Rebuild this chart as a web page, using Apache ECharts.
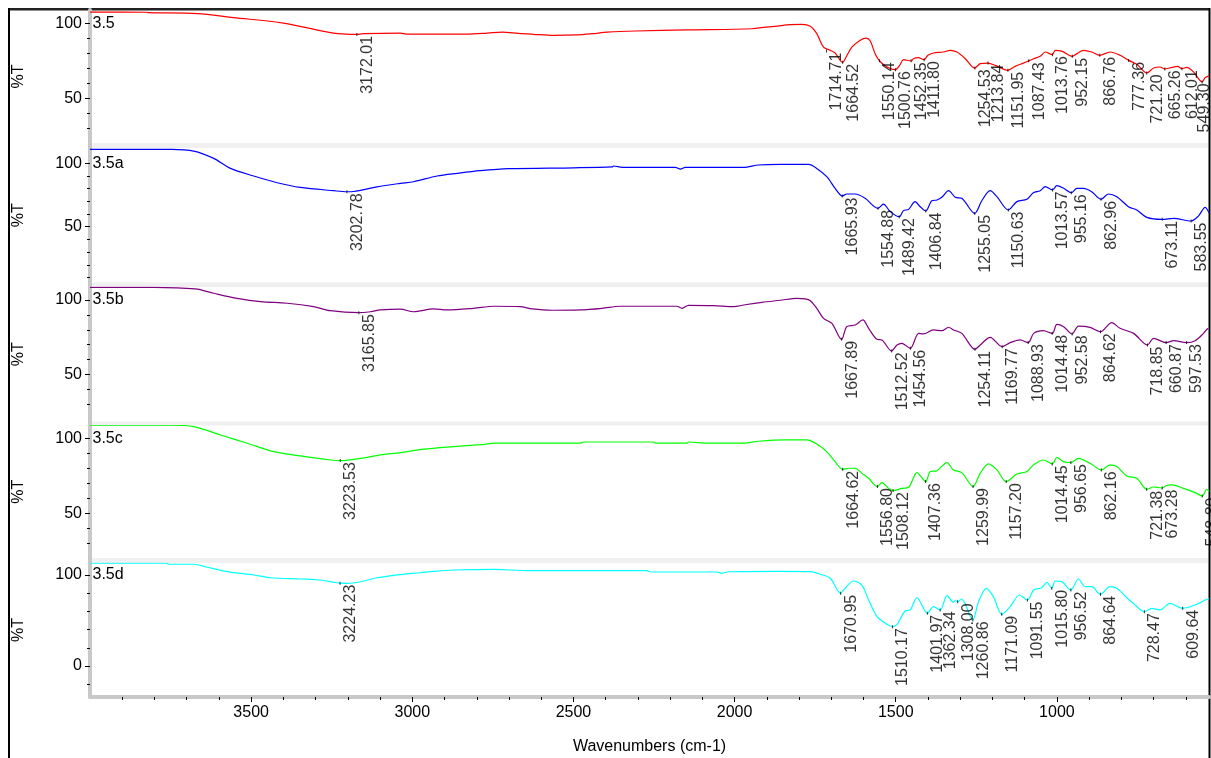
<!DOCTYPE html>
<html>
<head>
<meta charset="utf-8">
<title>FTIR spectra 3.5 – 3.5d</title>
<script src="https://cdn.jsdelivr.net/npm/echarts@6/dist/echarts.min.js"></script>
<style>
  html, body { margin: 0; padding: 0; background: #fff; }
  #chart { width: 1211px; height: 758px; }
</style>
</head>
<body>
<div id="chart"></div>
<script>
// spectra: [wavenumber cm-1, %T]
const spec35 = [[4000,107.5],[3822,107.4],[3820,107.1],[3667,106.5],[3555,103.8],[3400,100.2],[3245,93.5],[3192,92.7],[3172,92.6],[3152,93.1],[3037,93.5],[3015,92.8],[2830,92.8],[2767,93.5],[2721,94.2],[2671,93.3],[2624,92.7],[2562,92],[2488,92.3],[2441,93.1],[2395,94.1],[2308,94.9],[2147,95.6],[1945,96.4],[1911,97.3],[1868,98.2],[1827,99.1],[1791,99.3],[1765,98],[1745,93.1],[1724,84.2],[1703,82],[1688,80.2],[1665,74],[1651,78.7],[1636,84.2],[1610,88.7],[1592,90.2],[1579,88.2],[1564,79.8],[1550,74.9],[1527,70.9],[1501,69.1],[1488,72],[1476,75.8],[1452,74.9],[1445,76.4],[1430,77.1],[1412,75.8],[1400,78.7],[1383,80.2],[1352,80.9],[1331,82],[1310,80.9],[1284,76.4],[1255,70.2],[1238,73.1],[1214,73.5],[1191,72],[1152,68.7],[1130,71.3],[1104,73.5],[1087,75],[1072,76.4],[1052,78],[1036,80.9],[1014,79.1],[1005,82],[985,81.5],[952,78],[938,79.8],[917,82],[892,80.9],[867,78.7],[835,80.9],[804,78.7],[777,75.3],[752,72.7],[721,66.9],[700,70.2],[680,70.9],[665,69.6],[643,70.6],[625,71.3],[612,69.8],[597,70.6],[576,67.6],[549,60.9],[540,63.8],[528,65]];
const spec35a = [[4000,111],[3746,111],[3678,109.7],[3616,103.9],[3564,96],[3492,90],[3419,84.7],[3347,81],[3244,78.4],[3203,77.6],[3182,77.8],[3109,81.5],[3037,84.2],[2996,85.5],[2923,90],[2861,92.1],[2789,94.2],[2701,95.8],[2499,96.5],[2380,97.2],[2375,97.9],[2349,96.8],[2184,96.8],[2168,95.5],[2153,96.8],[1972,96.8],[1926,98.7],[1858,99.2],[1770,99.2],[1745,96],[1714,89.5],[1688,80.3],[1666,74.2],[1652,75.8],[1626,75.8],[1595,72.4],[1555,64.5],[1538,67.9],[1517,61.9],[1489,57.9],[1476,62.7],[1460,63.7],[1440,69.8],[1424,65.8],[1407,62.4],[1388,70.5],[1372,71.1],[1357,73.2],[1336,78.4],[1315,73.2],[1295,72.4],[1255,60.5],[1233,70.5],[1207,78.4],[1186,73.7],[1151,63.2],[1124,69.8],[1093,71.6],[1073,76.8],[1052,78.4],[1036,81.6],[1014,79],[1000,82.4],[979,80.3],[955,76.8],[938,80.3],[917,80.3],[892,77.6],[863,71.6],[840,75.8],[814,73.7],[778,65.8],[752,63.2],[721,57.4],[673,55.8],[638,56.6],[584,54.5],[561,58.4],[540,65.3],[528,61.1]];
const spec35b = [[4000,108.5],[3802,108.5],[3673,107.4],[3616,104.5],[3543,101.1],[3471,98.9],[3388,97.8],[3306,95.5],[3254,92.8],[3166,91.5],[3130,92.1],[3099,93.3],[3037,93.8],[2996,92.1],[2934,94],[2892,93.3],[2810,94.4],[2747,95.8],[2665,95.5],[2628,94],[2566,93.1],[2479,93.3],[2411,94.4],[2355,95.8],[2179,95.8],[2163,94.4],[2143,96.4],[2065,96.2],[2003,95.5],[1967,96.8],[1915,98.4],[1858,99.8],[1807,101.1],[1781,100.7],[1765,99.5],[1745,94.4],[1724,87.7],[1698,84.3],[1668,73.6],[1652,82.1],[1626,83.2],[1602,86.6],[1584,81],[1558,73.6],[1543,73.2],[1513,65.8],[1496,69.8],[1481,70.9],[1455,67.6],[1429,77.6],[1414,77.2],[1383,79.9],[1357,79.4],[1336,81.7],[1321,79.9],[1295,77.6],[1254,66.9],[1238,69.8],[1207,74.9],[1170,68.7],[1145,71.4],[1114,73.2],[1089,71.4],[1072,77.6],[1042,79.4],[1014,77.6],[1000,83.7],[979,82.1],[953,77.2],[933,82.5],[897,81.6],[865,78.7],[830,84.8],[804,81],[762,77.6],[719,69.8],[700,74.3],[661,71.4],[638,72.7],[598,71.4],[571,72.7],[545,77.6],[530,81],[528,81]];
const spec35c = [[4000,108.7],[3750,108.7],[3678,107.7],[3595,102.2],[3512,96.7],[3430,91.1],[3347,88.2],[3254,85.5],[3224,85.1],[3140,87.3],[3099,88.9],[3037,90.4],[2965,92.7],[2872,94.4],[2789,95.7],[2742,96.7],[2479,96.7],[2468,97.5],[2251,97.5],[2246,96.7],[2148,96.7],[2143,97.5],[2081,96.7],[1972,96.7],[1926,98],[1843,98.9],[1775,98.9],[1765,98.4],[1745,96.2],[1714,91.1],[1688,84.4],[1665,79.3],[1646,80],[1626,80],[1605,76.6],[1584,73.3],[1557,67.8],[1543,70.4],[1522,66.6],[1508,65.1],[1481,66.6],[1460,67.3],[1434,77.1],[1407,71.1],[1393,77.8],[1372,78.4],[1341,83.8],[1321,78.9],[1295,77.1],[1260,67.8],[1238,76.6],[1212,82.9],[1186,78.9],[1157,71.1],[1124,76.2],[1093,77.8],[1073,82.2],[1042,85.5],[1014,82.9],[1000,87.3],[979,84.4],[957,83.8],[933,86.6],[897,83.3],[862,78.9],[835,82.2],[814,81.1],[783,74.9],[752,73.3],[721,66],[700,67.5],[685,67.2],[673,66.8],[660,68.5],[643,68.9],[607,66.6],[571,63.8],[549,61.5],[535,66],[528,64.4]];
const spec35d = [[4000,112.9],[3761,112.9],[3756,111.8],[3678,111.8],[3636,108.5],[3574,103.7],[3492,100],[3440,97],[3347,95.6],[3285,94.5],[3244,92],[3224,91],[3202,90.9],[3161,92.6],[3109,97],[3037,100.5],[2975,102.5],[2934,104],[2872,105.5],[2742,106.2],[2644,104.8],[2272,104.8],[2261,103.3],[2055,103.3],[2039,101.9],[2019,103.6],[1858,104],[1765,103.7],[1734,100.8],[1703,96.4],[1671,79.9],[1662,83.5],[1631,93.4],[1605,89],[1584,72.5],[1558,54.2],[1527,45.8],[1510,43.2],[1495,46],[1486,51.7],[1471,60.5],[1455,61.6],[1434,75.1],[1402,57.9],[1383,65.2],[1362,61.6],[1341,77.3],[1321,70],[1315,72],[1308,70.5],[1296,73.6],[1285,68.9],[1261,50.6],[1243,70.7],[1219,85.4],[1197,76.2],[1171,56.8],[1145,65.2],[1116,78],[1092,72.5],[1072,83.5],[1047,86.1],[1031,92],[1016,85.4],[1005,93.4],[985,92.7],[957,83.5],[933,95.6],[912,87.2],[892,87.2],[865,78.8],[835,87.2],[814,85.4],[783,75.1],[763,68.9],[728,59.7],[705,63.4],[680,61.6],[649,68.9],[610,63.4],[566,67.8],[540,72.5],[528,74.2]];

// labelled peaks: [wavenumber, %T at the curve]
const peaks35 = [[3172.01,92.6],[1714.71,81.5],[1664.52,74],[1550.14,75],[1500.76,69.1],[1452.35,75],[1411.80,75.8],[1254.53,70.3],[1213.84,73.5],[1151.95,68.7],[1087.43,75],[1013.76,79.1],[952.15,78],[866.76,78.7],[777.36,75.3],[721.20,66.9],[665.26,69.6],[612.01,69.8],[549.30,60.9]];
const peaks35a = [[3202.78,77.6],[1665.93,74.2],[1554.88,64.5],[1489.42,57.9],[1406.84,62.4],[1255.05,60.5],[1150.63,63.2],[1013.57,79],[955.16,76.8],[862.96,71.6],[673.11,55.8],[583.55,54.5]];
const peaks35b = [[3165.85,91.5],[1667.89,73.6],[1512.52,65.8],[1454.56,67.6],[1254.11,66.9],[1169.77,68.7],[1088.93,71.4],[1014.48,77.6],[952.58,77.2],[864.62,78.7],[718.85,69.8],[660.87,71.4],[597.53,71.4]];
const peaks35c = [[3223.53,85.1],[1664.62,79.3],[1556.80,67.8],[1508.12,65.1],[1407.36,71.1],[1259.99,67.8],[1157.20,71.1],[1014.45,82.9],[956.65,83.8],[862.16,78.9],[721.38,66],[673.28,66.8],[548.80,61.5]];
const peaks35d = [[3224.23,91],[1670.95,79.9],[1510.17,43.2],[1401.97,57.9],[1362.34,61.6],[1308.00,70.5],[1260.86,50.6],[1171.09,56.8],[1091.55,72.5],[1015.80,85.4],[956.52,83.5],[864.64,78.8],[728.47,59.7],[609.64,63.4]];

const sampleNames = ['3.5', '3.5a', '3.5b', '3.5c', '3.5d'];
const lineColors = ['#ff0000', '#0000ff', '#800080', '#00ff00', '#00ffff'];

// tick labels
const xLabelTicks = [3500, 3000, 2500, 2000, 1500, 1000];
const xMinorTicks = [3900,3800,3700,3600,3400,3300,3200,3100,2900,2800,2700,2600,2400,2300,2200,2100,1900,1800,1700,1600,1400,1300,1200,1100,900,800,700,600];
const yLabelTicks = [[50,100],[50,100],[50,100],[50,100],[0,100]];
const yMinorTicks = [[30,40,60,70,80,90],[10,20,30,40,60,70,80,90],[30,40,60,70,80,90],[30,40,60,70,80,90],[-20,20,40,60,80]];

const spectra = [spec35, spec35a, spec35b, spec35c, spec35d];
const peaks = [peaks35, peaks35a, peaks35b, peaks35c, peaks35d];

// panel layout (pixels) and y ranges
const panels = [
  { top: 10,    height: 133,   min: 20.2,  max: 108.9 },
  { top: 148,   height: 134.5, min: 6,     max: 112.1 },
  { top: 287,   height: 134.5, min: 18.5,  max: 108.7 },
  { top: 425.5, height: 132.5, min: 20.2,  max: 108.5 },
  { top: 563,   height: 134,   min: -34.1, max: 113.2 }
];
const separators = [[143, 5], [282.5, 4.5], [421.5, 4], [558, 5]];

const FONT = "'Liberation Sans', Arial, sans-serif";
const X_MIN = 528, X_MAX = 4000;

const grid = [], xAxis = [], yAxis = [], series = [];

panels.forEach((p, i) => {
  grid.push({ left: 90, right: 2, top: p.top, height: p.height, outerBoundsMode: 'none' });

  const isBottom = i === panels.length - 1;
  const xIdx = xAxis.length;
  xAxis.push({
    gridIndex: i, type: 'value', min: X_MIN, max: X_MAX, inverse: true,
    show: isBottom,
    position: 'bottom',
    axisLine: { show: true, onZero: false, lineStyle: { color: '#c8c8c8', width: 4 } },
    axisTick: { show: true, customValues: xLabelTicks, length: 5, lineStyle: { color: '#000' } },
    axisLabel: { customValues: xLabelTicks, margin: 8, color: '#000', fontSize: 16, fontFamily: FONT,
                 formatter: (v) => String(v) },
    splitLine: { show: false },
    name: isBottom ? 'Wavenumbers (cm-1)' : '',
    nameLocation: 'middle', nameGap: 42,
    nameTextStyle: { color: '#000', fontSize: 16, fontFamily: FONT }
  });

  const yMajor = yAxis.length;
  yAxis.push({
    gridIndex: i, type: 'value', min: p.min, max: p.max, position: 'left',
    axisLine: { show: true, onZero: false, lineStyle: { color: '#c8c8c8', width: 4 } },
    axisTick: { show: true, customValues: yLabelTicks[i], length: 5, lineStyle: { color: '#000' } },
    axisLabel: { customValues: yLabelTicks[i], margin: 8, color: '#000', fontSize: 16, fontFamily: FONT },
    splitLine: { show: false },
    name: '%T', nameLocation: 'middle', nameRotate: 90, nameGap: 63,
    nameTextStyle: { color: '#000', fontSize: 16, fontFamily: FONT }
  });
  yAxis.push({
    gridIndex: i, type: 'value', min: p.min, max: p.max, position: 'left',
    axisLine: { show: false },
    axisTick: { show: true, customValues: yMinorTicks[i], length: 3, lineStyle: { color: '#000' } },
    axisLabel: { show: false },
    splitLine: { show: false }
  });

  series.push({
    type: 'line', xAxisIndex: xIdx, yAxisIndex: yMajor,
    data: spectra[i], showSymbol: false, symbol: 'none', smooth: 0.3,
    lineStyle: { color: lineColors[i], width: 1.2 },
    silent: true, z: 3,
    markPoint: {
      symbol: 'rect', symbolSize: 1, itemStyle: { color: 'rgba(0,0,0,0)' },
      data: [{ coord: [X_MAX, 100], name: sampleNames[i] }],
      label: { show: true, position: 'right', distance: 2, formatter: '{b}', color: '#000', fontSize: 16, fontFamily: FONT }
    }
  });

  // the panel-0 label at the right edge is nudged left to stay inside the frame
  const peakData = peaks[i].map((pk) => (i === 0 && pk[0] < 555)
    ? { value: pk, label: { position: [-5, 3] } }
    : pk);
  series.push({
    type: 'scatter', xAxisIndex: xIdx, yAxisIndex: yMajor,
    data: peakData, symbol: 'rect', symbolSize: [1, 3],
    itemStyle: { color: '#000' }, silent: true, z: 4,
    label: {
      show: true, rotate: 90, position: [3, 3], align: 'right', verticalAlign: 'top',
      formatter: (d) => d.value[0].toFixed(2),
      color: '#000', fontSize: 16, fontFamily: FONT
    }
  });

  if (isBottom) {
    xAxis.push({
      gridIndex: i, type: 'value', min: X_MIN, max: X_MAX, inverse: true, position: 'bottom',
      axisLine: { show: false, onZero: false },
      axisTick: { show: true, customValues: xMinorTicks, length: 3, lineStyle: { color: '#000' } },
      axisLabel: { show: false },
      splitLine: { show: false }
    });
  }
});

const graphic = [];
separators.forEach(([y, h]) => {
  graphic.push({ type: 'rect', shape: { x: 92, y: y, width: 1116, height: h }, style: { fill: '#f0f0f0' }, silent: true });
  graphic.push({ type: 'rect', shape: { x: 88, y: y, width: 4, height: h }, style: { fill: '#c8c8c8' }, silent: true });
});
// outer frame
graphic.push({ type: 'rect', shape: { x: 8, y: 8, width: 1202, height: 2.5 }, style: { fill: '#222' }, silent: true });
graphic.push({ type: 'rect', shape: { x: 8, y: 8, width: 2, height: 750 }, style: { fill: '#000' }, silent: true });
graphic.push({ type: 'rect', shape: { x: 1208.5, y: 8, width: 2, height: 750 }, style: { fill: '#000' }, silent: true });

const chart = echarts.init(document.getElementById('chart'), null, { renderer: 'canvas' });
chart.setOption({
  animation: false,
  backgroundColor: '#fff',
  textStyle: { fontFamily: FONT },
  grid, xAxis, yAxis, series,
  graphic: { elements: graphic }
});
window.onresize = () => chart.resize();
</script>
</body>
</html>
